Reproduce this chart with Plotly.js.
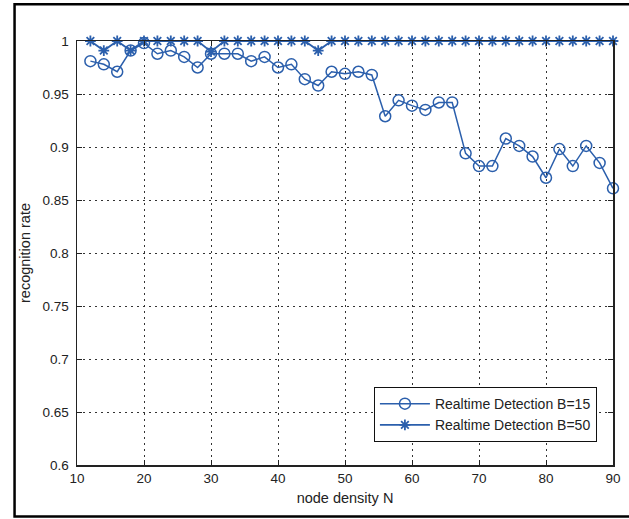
<!DOCTYPE html>
<html>
<head>
<meta charset="utf-8">
<script src="https://cdn.plot.ly/plotly-3.0.1.min.js"></script>
<style>
html,body{margin:0;padding:0;background:#fff;}
#chart{width:629px;height:519px;}
</style>
</head>
<body>
<div id="chart"></div>
<script>
var nodeDensity = [12,14,16,18,20,22,24,26,28,30,32,34,36,38,40,42,44,46,48,50,52,54,56,58,60,62,64,66,68,70,72,74,76,78,80,82,84,86,88,90];
var rateB15 = [0.981,0.978,0.971,0.991,0.998,0.988,0.991,0.985,0.975,0.988,0.988,0.988,0.981,0.985,0.975,0.978,0.964,0.958,0.971,0.969,0.971,0.968,0.929,0.944,0.939,0.935,0.942,0.942,0.894,0.882,0.882,0.908,0.901,0.891,0.871,0.898,0.882,0.901,0.885,0.861];
var rateB50 = [1,0.991,1,0.991,1,1,1,1,1,0.99,1,1,1,1,1,1,1,0.991,1,1,1,1,1,1,1,1,1,1,1,1,1,1,1,1,1,1,1,1,1,1];
var xTicks = [10,20,30,40,50,60,70,80,90];
var yTicks = [0.6,0.65,0.7,0.75,0.8,0.85,0.9,0.95,1];
var yTickLabels = ['0.6','0.65','0.7','0.75','0.8','0.85','0.9','0.95','1'];
var seriesNames = ['Realtime Detection B=15','Realtime Detection B=50'];

var blue = '#2b5fac';
var traces = [
  {x: nodeDensity, y: rateB15, name: seriesNames[0], type: 'scatter', mode: 'lines+markers',
   line: {color: blue, width: 1.5},
   marker: {symbol: 'circle-open', size: 11, color: blue, line: {width: 1.5, color: blue}}, cliponaxis: false},
  {x: nodeDensity, y: rateB50, name: seriesNames[1], type: 'scatter', mode: 'lines+markers',
   line: {color: blue, width: 1.8},
   marker: {symbol: 'asterisk-open', size: 9, color: blue, line: {width: 1.8, color: blue}}, cliponaxis: false}
];

var axisCommon = {
  showline: true, mirror: 'ticks', linecolor: '#222', linewidth: 1.5,
  ticks: 'inside', ticklen: 5, tickcolor: '#222', tickwidth: 1,
  showgrid: true, gridcolor: '#333', griddash: '2px,4px', gridwidth: 1,
  zeroline: false, tickfont: {family: 'Liberation Sans, Arial, sans-serif', size: 13.5, color: '#222'}
};

var layout = {
  width: 629, height: 519,
  margin: {l: 76.5, r: 16, t: 41, b: 54},
  paper_bgcolor: '#fff', plot_bgcolor: '#fff',
  font: {family: 'Liberation Sans, Arial, sans-serif', size: 13.5, color: '#222'},
  xaxis: Object.assign({}, axisCommon, {
    range: [10, 90], tickvals: xTicks,
    title: {text: 'node density N', font: {size: 14.5, color: '#222'}, standoff: 8}
  }),
  yaxis: Object.assign({}, axisCommon, {
    range: [0.6, 1], tickvals: yTicks, ticktext: yTickLabels, ticklabelstandoff: 4,
    title: {text: 'recognition rate', font: {size: 14.5, color: '#222'}, standoff: 8}
  }),
  legend: {
    x: 0.97, y: 0.054, xanchor: 'right', yanchor: 'bottom',
    bgcolor: '#fff', bordercolor: '#111', borderwidth: 1,
    font: {size: 14, color: '#222'}, tracegroupgap: 0, itemwidth: 50
  },
  showlegend: true,
  shapes: [
    {type: 'rect', xref: 'paper', yref: 'paper', x0: -0.1165, x1: 1.1, y0: -0.1215, y1: 1.0865,
     line: {color: '#000', width: 2.5}, fillcolor: 'rgba(0,0,0,0)', layer: 'below'}
  ]
};

Plotly.newPlot('chart', traces, layout, {staticPlot: true, displayModeBar: false});
</script>
</body>
</html>
